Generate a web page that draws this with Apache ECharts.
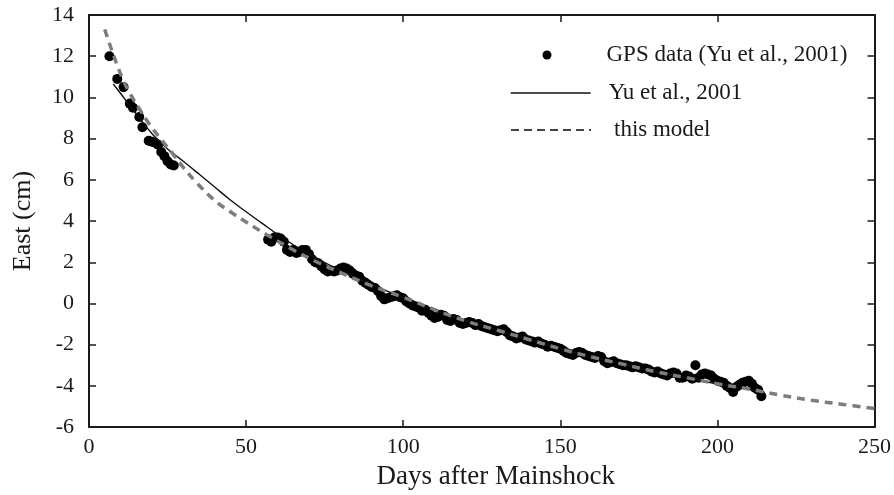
<!DOCTYPE html>
<html>
<head>
<meta charset="utf-8">
<script src="https://cdn.jsdelivr.net/npm/echarts@6/dist/echarts.min.js"></script>
<style>html,body{margin:0;padding:0;background:#fff;}#c{width:894px;height:495px;}</style>
</head>
<body>
<div id="c"></div>
<script>
// ---- data ----
const gpsDays = [6.5,9,11,13,14,16,17,19,20,21,22,23,24,25,26,27,
 57,58,59,60,61,62,63,64,65,66,67,68,69,70,71,72,73,74,75,76,77,78,79,80,81,82,83,84,85,86,87,88,89,90,
 91,92,93,94,95,96,97,98,99,100,101,102,103,104,105,106,107,108,109,110,111,112,113,114,115,116,117,118,119,120,
 121,122,123,124,125,126,127,128,129,130,131,132,133,134,135,136,137,138,139,140,141,142,143,144,145,146,147,148,149,150,
 151,152,153,154,155,156,157,158,159,160,161,162,163,164,165,166,167,168,169,170,171,172,173,174,175,176,177,178,179,180,
 181,182,183,184,185,186,187,188,189,190,191,192,193,194,195,196,197,198,199,200,201,202,203,204,205,206,207,208,209,210,
 211,212,213,214];
const gpsValues = [12.0,10.9,10.5,9.7,9.5,9.05,8.55,7.9,7.85,7.8,7.7,7.35,7.15,6.9,6.75,6.7,
 3.1,3.0,3.2,3.2,3.15,3.0,2.6,2.5,2.6,2.45,2.5,2.6,2.6,2.4,2.15,2.0,1.95,1.8,1.65,1.55,1.6,1.55,1.6,1.7,1.75,1.7,1.6,1.45,1.35,1.3,1.1,1.0,0.9,0.8,
 0.75,0.6,0.35,0.2,0.25,0.3,0.35,0.4,0.3,0.25,0.1,0.0,-0.1,-0.15,-0.2,-0.35,-0.3,-0.45,-0.6,-0.7,-0.65,-0.55,-0.6,-0.8,-0.85,-0.75,-0.8,-0.95,-1.0,-0.95,
 -0.9,-0.95,-1.05,-1.0,-1.1,-1.15,-1.2,-1.25,-1.3,-1.35,-1.3,-1.25,-1.4,-1.55,-1.6,-1.7,-1.65,-1.6,-1.75,-1.8,-1.85,-1.9,-1.85,-1.95,-2.0,-2.1,-2.05,-2.1,-2.15,-2.2,
 -2.3,-2.4,-2.45,-2.5,-2.4,-2.35,-2.4,-2.5,-2.55,-2.6,-2.65,-2.55,-2.6,-2.8,-2.9,-2.85,-2.8,-2.9,-2.95,-3.0,-3.0,-3.05,-3.1,-3.05,-3.1,-3.15,-3.15,-3.2,-3.3,-3.35,
 -3.3,-3.4,-3.45,-3.5,-3.4,-3.35,-3.4,-3.6,-3.6,-3.5,-3.55,-3.65,-3.0,-3.6,-3.45,-3.4,-3.45,-3.5,-3.65,-3.75,-3.8,-3.85,-4.0,-4.1,-4.3,-4.05,-3.95,-3.85,-3.8,-3.75,
 -3.9,-4.1,-4.2,-4.5];

const yuDays   = [7.7,10,14,20,25,30,35,40,45,50,55,60,65,70,80,90,100,110,120,130,140,150,160,170,180,190,200,215];
const yuValues = [10.65,10.2,9.4,8.25,7.5,6.9,6.28,5.65,5.02,4.45,3.9,3.35,2.85,2.4,1.6,0.9,0.3,-0.3,-0.85,-1.3,-1.75,-2.2,-2.6,-2.95,-3.3,-3.6,-3.9,-4.3];

const modelDays   = [5,7,9,11,13,16,19,23,27,30,34,40,45,50,57,65,72,80,90,100,110,120,130,140,150,160,170,180,190,200,210,220,230,240,250];
const modelValues = [13.3,12.4,11.55,10.8,10.2,9.45,8.75,7.95,7.2,6.6,5.9,5.0,4.45,3.95,3.3,2.6,2.05,1.5,0.85,0.3,-0.3,-0.85,-1.3,-1.75,-2.2,-2.6,-2.95,-3.3,-3.6,-3.9,-4.15,-4.45,-4.7,-4.9,-5.1];

const xTicks = {min:0, max:250, interval:50};
const yTicks = {min:-6, max:14, interval:2};

const names = ['GPS data (Yu et al., 2001)', 'Yu et al., 2001', 'this model'];

// ---- chart ----
const FONT = 'Liberation Serif';
const zip = (a,b) => a.map((d,i)=>[d,b[i]]);
const chart = echarts.init(document.getElementById('c'), null, {renderer:'canvas'});
const axisLine = {show:true, onZero:false, lineStyle:{color:'#1a1a1a', width:2}};
const tick = {show:true, inside:true, length:7, lineStyle:{color:'#1a1a1a', width:1.5}};
const legendText = (pad) => ({fontFamily:FONT, fontSize:23, color:'#1a1a1a', lineHeight:26, padding:[0,0,0,pad]});
const noSymbol = {color:'rgba(0,0,0,0)', borderWidth:0, borderColor:'rgba(0,0,0,0)'};

chart.setOption({
  backgroundColor:'#fff',
  animation:false,
  grid:{left:89, right:14, top:15, bottom:62},
  legend:[
    {data:[{name:names[0], icon:'circle'}], left:542.5, top:42, itemWidth:9, itemHeight:9, padding:0,
     selectedMode:false, itemStyle:{color:'#000', opacity:1}, textStyle:legendText(50)},
    {data:[names[1]], left:510, top:80, itemWidth:80, itemHeight:10, padding:0,
     selectedMode:false, itemStyle:noSymbol, lineStyle:{width:1.4, color:'#111'}, textStyle:legendText(13)},
    {data:[names[2]], left:510, top:117, itemWidth:80, itemHeight:10, padding:0,
     selectedMode:false, itemStyle:noSymbol, lineStyle:{width:2, color:'#444', type:[8,5]}, textStyle:legendText(18)}
  ],
  xAxis:[
    {type:'value', min:xTicks.min, max:xTicks.max, interval:xTicks.interval, position:'bottom',
     name:'Days after Mainshock', nameLocation:'middle', nameGap:26,
     nameTextStyle:{fontFamily:FONT, fontSize:27, color:'#1a1a1a', padding:[0,0,0,28]},
     axisLine:axisLine, axisTick:tick, splitLine:{show:false},
     axisLabel:{fontFamily:FONT, fontSize:22, color:'#1a1a1a', margin:9}},
    {type:'value', min:xTicks.min, max:xTicks.max, interval:xTicks.interval, position:'top',
     axisLine:axisLine, axisTick:tick, splitLine:{show:false}, axisLabel:{show:false}}
  ],
  yAxis:[
    {type:'value', min:yTicks.min, max:yTicks.max, interval:yTicks.interval, position:'left',
     name:'East (cm)', nameLocation:'middle', nameGap:53, nameRotate:90,
     nameTextStyle:{fontFamily:FONT, fontSize:26, color:'#1a1a1a'},
     axisLine:axisLine, axisTick:tick, splitLine:{show:false},
     axisLabel:{fontFamily:FONT, fontSize:22, color:'#1a1a1a', margin:15}},
    {type:'value', min:yTicks.min, max:yTicks.max, interval:yTicks.interval, position:'right',
     axisLine:axisLine, axisTick:tick, splitLine:{show:false}, axisLabel:{show:false}}
  ],
  series:[
    {name:names[0], type:'scatter', data:zip(gpsDays,gpsValues), symbol:'circle', symbolSize:10,
     itemStyle:{color:'#000', opacity:1}, z:2},
    {name:names[1], type:'line', data:zip(yuDays,yuValues), symbol:'none', smooth:0.4,
     lineStyle:{color:'#111', width:1.4}, itemStyle:{color:'#111'}, z:3},
    {name:names[2], type:'line', data:zip(modelDays,modelValues), symbol:'none', smooth:0.4,
     lineStyle:{color:'#7d7d7d', width:3.5, type:[8,6]}, itemStyle:{color:'#7d7d7d'}, z:4}
  ]
});
</script>
</body>
</html>
